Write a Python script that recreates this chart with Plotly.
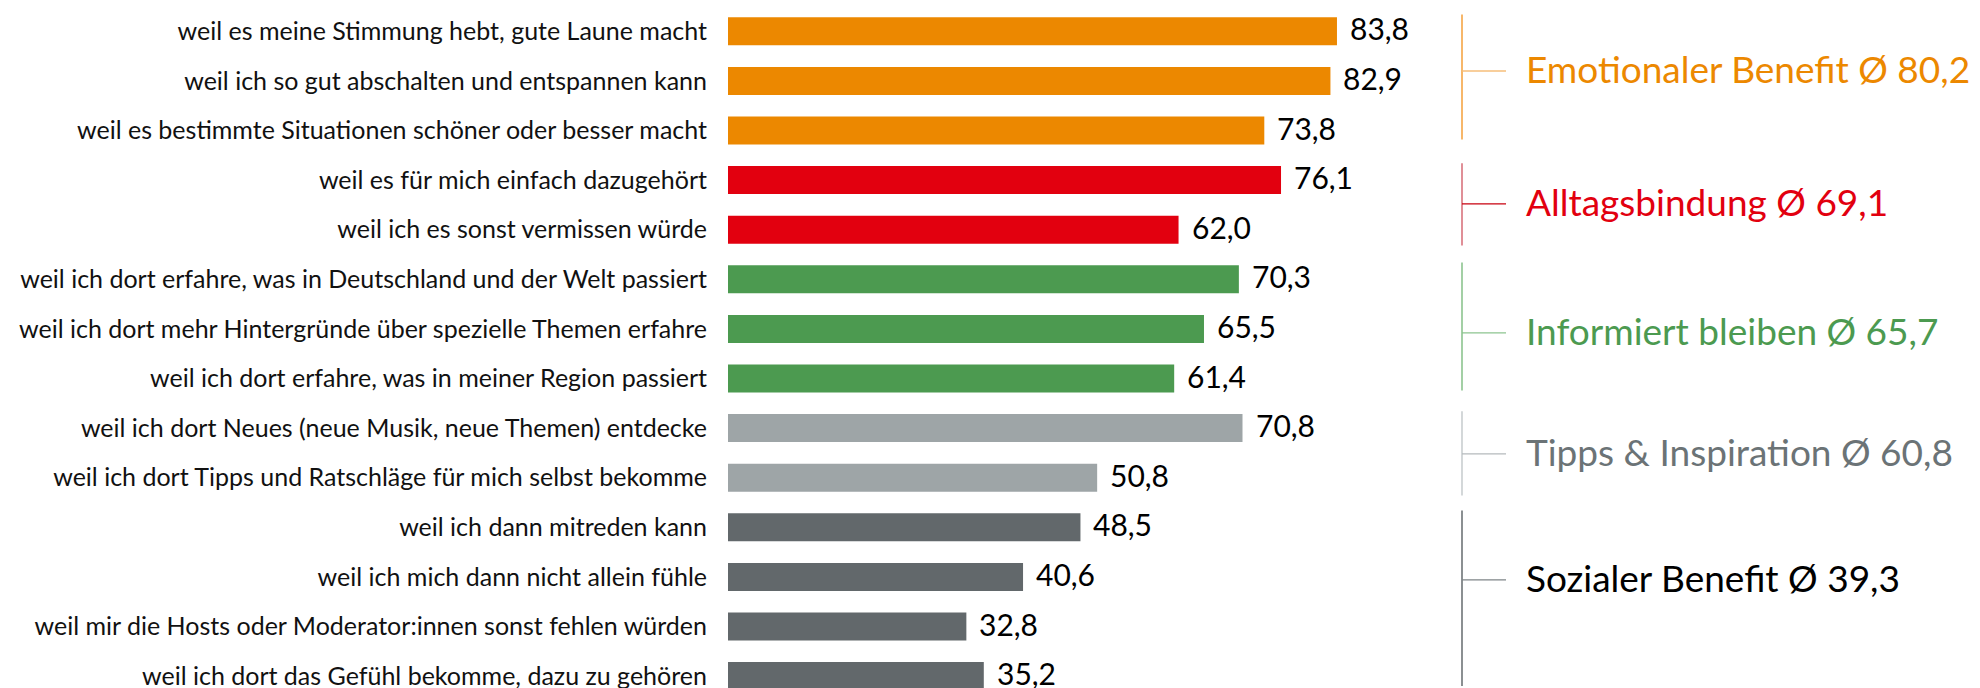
import plotly.graph_objects as go

categories = [
    "weil es meine Stimmung hebt, gute Laune macht",
    "weil ich so gut abschalten und entspannen kann",
    "weil es bestimmte Situationen schöner oder besser macht",
    "weil es für mich einfach dazugehört",
    "weil ich es sonst vermissen würde",
    "weil ich dort erfahre, was in Deutschland und der Welt passiert",
    "weil ich dort mehr Hintergründe über spezielle Themen erfahre",
    "weil ich dort erfahre, was in meiner Region passiert",
    "weil ich dort Neues (neue Musik, neue Themen) entdecke",
    "weil ich dort Tipps und Ratschläge für mich selbst bekomme",
    "weil ich dann mitreden kann",
    "weil ich mich dann nicht allein fühle",
    "weil mir die Hosts oder Moderator:innen sonst fehlen würden",
    "weil ich dort das Gefühl bekomme, dazu zu gehören",
]
values = [83.8, 82.9, 73.8, 76.1, 62.0, 70.3, 65.5, 61.4, 70.8, 50.8, 48.5, 40.6, 32.8, 35.2]

group_names = ["Emotionaler Benefit", "Alltagsbindung", "Informiert bleiben",
               "Tipps & Inspiration", "Sozialer Benefit"]
group_avgs = [80.2, 69.1, 65.7, 60.8, 39.3]
group_sizes = [3, 2, 3, 2, 4]

# styling
bar_colors = ["#EC8800", "#E2000F", "#4C9A50", "#9EA5A7", "#62686B"]
text_colors = ["#EC8800", "#E2000F", "#4C9A50", "#6B7376", "#000000"]
vline_colors = ["#F5A545", "#D9737D", "#8CC48F", "#C9CED0", "#6E7477"]
tick_colors = ["#F6BE7A", "#C8000F", "#8CC48F", "#B5BABC", "#7E8487"]
# bracket extents / tick positions (in category units, layout only)
br_top_off = -0.34
br_bot_off = [0.18, 0.32, 0.24, 0.36, 0.2]
tick_pos = [0.8, 3.48, 6.08, 8.52, 11.06]

colors = []
for c, n in zip(bar_colors, group_sizes):
    colors += [c] * n

W, H = 1980, 688
ML = 720
px_per_unit = 7.267
row = 49.6
top_center = 23.3
y_top = -top_center / row
y_bot = y_top + H / row

idx = list(range(len(categories)))

fig = go.Figure()
fig.add_trace(go.Bar(
    x=values, y=idx, orientation="h",
    marker=dict(color=colors, line=dict(width=0)),
    width=0.565, hoverinfo="skip",
))

annotations = []
for i, v in zip(idx, values):
    annotations.append(dict(
        x=v, y=i, xref="x", yref="y", xanchor="left", yanchor="middle",
        xshift=11, yshift=3, text=f"{v:.1f}".replace(".", ","), showarrow=False,
        font=dict(family="Lato", size=30, color="#000000"),
    ))

shapes = []
x_line = (1454 - ML) / (W - ML)
x_tick_end = (1498 - ML) / (W - ML)
x_text = (1516 - ML) / (W - ML)
start = 0
for g, n in enumerate(group_sizes):
    first, last = start, start + n - 1
    shapes.append(dict(type="line", xref="paper", yref="y",
                       x0=x_line, x1=x_line, y0=first + br_top_off, y1=last + br_bot_off[g],
                       line=dict(color=vline_colors[g], width=1.6)))
    shapes.append(dict(type="line", xref="paper", yref="y",
                       x0=x_line, x1=x_tick_end, y0=tick_pos[g], y1=tick_pos[g],
                       line=dict(color=tick_colors[g], width=1.3)))
    annotations.append(dict(
        x=x_text, y=tick_pos[g], xref="paper", yref="y", xanchor="left", yanchor="middle",
        yshift=2,
        text=f"{group_names[g]} Ø {group_avgs[g]:.1f}".replace(".", ","), showarrow=False,
        font=dict(family="Lato", size=37, color=text_colors[g]),
    ))
    start += n

fig.update_layout(
    width=W, height=H,
    margin=dict(l=ML, r=0, t=0, b=0),
    paper_bgcolor="white", plot_bgcolor="white",
    showlegend=False,
    xaxis=dict(range=[0, (W - ML) / px_per_unit], visible=False, fixedrange=True),
    yaxis=dict(range=[y_bot, y_top], tickvals=idx, ticktext=categories,
               showgrid=False, zeroline=False, showline=False,
               ticks="outside", ticklen=15, tickcolor="rgba(0,0,0,0)",
               tickfont=dict(family="Lato", size=25, color="#111111"),
               automargin=False, fixedrange=True),
    shapes=shapes, annotations=annotations,
)

fig.write_html("out.html")
